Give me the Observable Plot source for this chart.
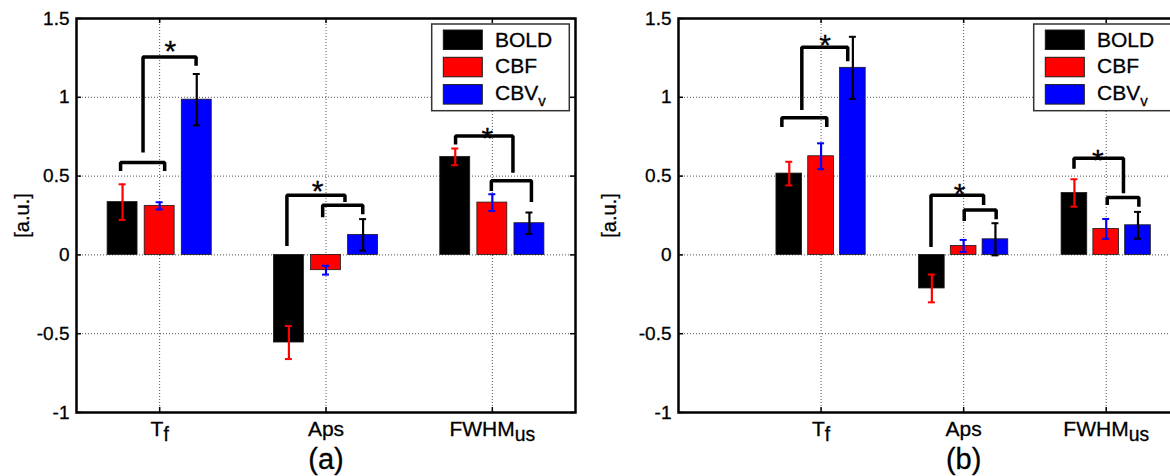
<!DOCTYPE html>
<html><head><meta charset="utf-8">
<script src="https://cdn.jsdelivr.net/npm/d3@7"></script>
<script src="https://cdn.jsdelivr.net/npm/@observablehq/plot@0.6"></script>
<style>
html,body{margin:0;padding:0;background:#fff;}
#wrap{position:relative;width:1170px;height:476px;overflow:hidden;background:#fff;}
.panel{position:absolute;top:0;height:476px;}
.panel svg{max-width:none !important;display:block;}
.panel svg text{stroke:#000;stroke-width:0.3px;}
</style></head><body><div id="wrap"></div>
<script>
// ---------- data ----------
const categories = ["T", "Aps", "FWHM"];
const categorySubs = ["f", "", "us"];
const seriesNames = ["BOLD", "CBF", "CBV"];
const seriesSubs = ["", "", "v"];
const seriesColors = ["#000000", "#ff0000", "#0000ff"];
const errorColors = ["#ff0000", "#0000ff", "#000000"];
const yTicks = [-1, -0.5, 0, 0.5, 1, 1.5];
const gridY = [-0.5, 0, 0.5, 1];
const xTicks = [1, 2, 3];
const yLabel = "[a.u.]";
const panelLabels = ["(a)", "(b)"];

// panel (a)
const boldA = [0.335, -0.556, 0.622];
const boldErrA = [0.113, 0.105, 0.053];
const cbfA = [0.311, -0.097, 0.332];
const cbfErrA = [0.023, 0.028, 0.053];
const cbvA = [0.985, 0.127, 0.201];
const cbvErrA = [0.163, 0.100, 0.068];
// significance brackets: [xLeft, yLeftLeg, xRight, yRightLeg, yTop]
const bracketsA = [
  [0.765, 0.533, 1.030, 0.533, 0.586],
  [0.900, 0.650, 1.219, 1.200, 1.256],
  [1.765, 0.057, 2.114, 0.336, 0.379],
  [1.980, 0.239, 2.221, 0.258, 0.315],
  [2.779, 0.700, 3.124, 0.522, 0.755],
  [2.994, 0.406, 3.235, 0.336, 0.470]
];
const starsA = [[1.064, 1.341], [1.950, 0.452], [2.970, 0.787]];

// panel (b)
const boldB = [0.516, -0.213, 0.393];
const boldErrB = [0.075, 0.088, 0.087];
const cbfB = [0.626, 0.057, 0.165];
const cbfErrB = [0.082, 0.038, 0.063];
const cbvB = [1.187, 0.099, 0.188];
const cbvErrB = [0.197, 0.102, 0.085];
const bracketsB = [
  [0.725, 0.811, 1.040, 0.811, 0.870],
  [0.865, 0.919, 1.187, 1.229, 1.318],
  [1.771, 0.050, 2.140, 0.317, 0.378],
  [2.004, 0.215, 2.228, 0.226, 0.285],
  [2.774, 0.547, 3.121, 0.391, 0.613],
  [3.007, 0.317, 3.229, 0.306, 0.364]
];
const starsB = [[1.028, 1.378], [1.972, 0.433], [2.942, 0.649]];

// ---------- layout constants ----------
const barOffsets = [-0.223, 0, 0.223];
const barWidth = 0.18;
const FONT = '"Liberation Sans", Arial, Helvetica, sans-serif';

function makePanel({vals, errs, brackets, stars, xDomain, label, width, marginLeft, yLabelDx}) {
  const bars = [];
  for (let s = 0; s < 3; s++) for (let c = 0; c < 3; c++) {
    const xc = c + 1 + barOffsets[s];
    bars.push({xc, x1: xc - barWidth / 2, x2: xc + barWidth / 2, v: vals[s][c], e: errs[s][c], fill: seriesColors[s], ecolor: errorColors[s]});
  }
  const caps = bars.flatMap(b => [{xc: b.xc, y: b.v - b.e, c: b.ecolor}, {xc: b.xc, y: b.v + b.e, c: b.ecolor}]);
  const bracketPts = brackets.flatMap((b, i) => [
    {id: i, x: b[0], y: b[1]}, {id: i, x: b[0], y: b[4]}, {id: i, x: b[2], y: b[4]}, {id: i, x: b[2], y: b[3]}
  ]);
  const xmin = xDomain[0], xmax = xDomain[1];
  const yMid = (yTicks[0] + yTicks[yTicks.length - 1]) / 2;
  const svg = Plot.plot({
    width, height: 476, marginLeft, marginRight: 25, marginTop: 18, marginBottom: 64,
    x: {domain: xDomain}, y: {domain: [-1, 1.5]}, color: {type: "identity"},
    style: {fontFamily: FONT, color: "#000", background: "transparent", overflow: "visible"},
    marks: [
      Plot.ruleY(gridY, {stroke: "#555", strokeWidth: 1, strokeDasharray: "1,2"}),
      Plot.ruleX(xTicks, {stroke: "#555", strokeWidth: 1, strokeDasharray: "1,2"}),
      Plot.rect(bars, {x1: "x1", x2: "x2", y1: () => 0, y2: "v", fill: "fill", stroke: "#1a1a1a", strokeWidth: 0.8}),
      Plot.ruleX(bars, {x: "xc", y1: d => d.v - d.e, y2: d => d.v + d.e, stroke: "ecolor", strokeWidth: 2.2}),
      Plot.ruleY(caps, {x1: "xc", x2: "xc", y: "y", stroke: "c", strokeWidth: 2, insetLeft: -3.5, insetRight: -3.5}),
      Plot.line(bracketPts, {x: "x", y: "y", z: "id", stroke: "#000", strokeWidth: 3.5, strokeLinejoin: "miter", strokeLinecap: "butt"}),
      Plot.text(stars, {x: d => d[0], y: d => d[1], text: () => "*", fontSize: 30, dy: 8, fill: "#000"}),
      Plot.frame({stroke: "#000", strokeWidth: 2.5}),
      Plot.ruleY(yTicks, {x1: () => xmin, x2: () => xmin, insetRight: -5, stroke: "#000", strokeWidth: 1.5}),
      Plot.ruleY(yTicks, {x1: () => xmax, x2: () => xmax, insetLeft: -5, stroke: "#000", strokeWidth: 1.5}),
      Plot.ruleX(xTicks, {y1: () => -1, y2: () => -1, insetTop: -5, stroke: "#000", strokeWidth: 1.5}),
      Plot.ruleX(xTicks, {y1: () => 1.5, y2: () => 1.5, insetBottom: -5, stroke: "#000", strokeWidth: 1.5}),
      Plot.axisY({ticks: yTicks, tickSize: 0, tickPadding: 7, tickFormat: d => String(d), fontSize: 19, label: null}),
      Plot.axisX({ticks: xTicks, tickSize: 0, tickPadding: 9, tickFormat: i => categories[i - 1] + categorySubs[i - 1], fontSize: 21, label: null}),
      Plot.text([yLabel], {x: () => xmin, y: () => yMid, textAnchor: "middle", lineAnchor: "middle", dx: yLabelDx, rotate: -90, fontSize: 20, fill: "#000"}),
      Plot.text([label], {x: () => 2, frameAnchor: "bottom", lineAnchor: "top", dy: 36, fontSize: 29, fill: "#000"})
    ]
  });
  // subscripts on x tick labels
  const labels = svg.querySelectorAll('[aria-label="x-axis tick label"] text');
  labels.forEach((t, i) => {
    if (!categorySubs[i]) return;
    t.textContent = categories[i];
    const ts = document.createElementNS("http://www.w3.org/2000/svg", "tspan");
    ts.setAttribute("dy", "0.25em");
    ts.setAttribute("font-size", "0.92em");
    ts.textContent = categorySubs[i];
    t.appendChild(ts);
  });
  // legend (inside top-right of frame)
  const frameRight = width - 25;
  const boxW = 137.6, boxH = 86.7;
  const g = d3.select(svg).append("g").attr("transform", `translate(${frameRight - 5.7 - boxW},24)`)
    .attr("text-anchor", "start");
  g.append("rect").attr("width", boxW).attr("height", boxH).attr("fill", "#fff").attr("stroke", "#333").attr("stroke-width", 1.5);
  seriesNames.forEach((name, i) => {
    g.append("rect").attr("x", 11.6).attr("y", 6 + i * 27.3).attr("width", 39).attr("height", 19.5)
      .attr("fill", seriesColors[i]).attr("stroke", "#1a1a1a").attr("stroke-width", 1);
    const t = g.append("text").attr("x", 63.3).attr("y", 22.7 + i * 26.7).attr("text-anchor", "start")
      .attr("font-family", FONT).attr("font-size", 21).attr("fill", "#000").text(name);
    if (seriesSubs[i]) t.append("tspan").attr("dy", 6).attr("font-size", 15).text(seriesSubs[i]);
  });
  return svg;
}

const wrap = document.getElementById("wrap");
const pA = document.createElement("div"); pA.className = "panel"; pA.style.left = "0px"; pA.style.width = "600px";
pA.appendChild(makePanel({vals: [boldA, cbfA, cbvA], errs: [boldErrA, cbfErrA, cbvErrA], brackets: bracketsA, stars: starsA,
  xDomain: [0.5, 3.5], label: panelLabels[0], width: 600, marginLeft: 76, yLabelDx: -54}));
const pB = document.createElement("div"); pB.className = "panel"; pB.style.left = "590px"; pB.style.width = "612px";
pB.appendChild(makePanel({vals: [boldB, cbfB, cbvB], errs: [boldErrB, cbfErrB, cbvErrB], brackets: bracketsB, stars: starsB,
  xDomain: [0, 3.5], label: panelLabels[1], width: 612, marginLeft: 88, yLabelDx: -69}));
wrap.appendChild(pA); wrap.appendChild(pB);
</script></body></html>
